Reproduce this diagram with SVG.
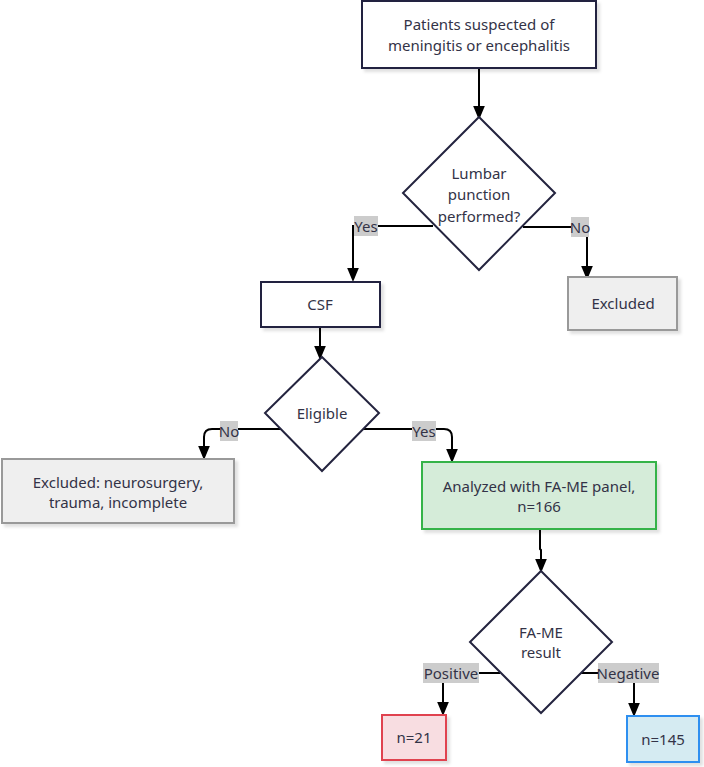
<svg xmlns="http://www.w3.org/2000/svg" width="704" height="767" viewBox="0 0 704 767">
<defs>
<marker id="arr" markerUnits="userSpaceOnUse" markerWidth="14" markerHeight="14" refX="6" refY="5" viewBox="0 0 12 10" orient="auto">
<path d="M0,0 L12,5 L0,10 z" fill="#000"/>
</marker>
<filter id="sh" x="-10%" y="-10%" width="130%" height="140%">
<feDropShadow dx="3" dy="3" stdDeviation="1.5" flood-color="#000" flood-opacity="0.12"/>
</filter>
</defs>
<style>
text{font-family:"Noto Sans","Liberation Sans",sans-serif;font-size:15px;fill:#333347;text-anchor:middle;dominant-baseline:central}
.box{fill:#fff;stroke:#24243f;stroke-width:2;filter:url(#sh)}
.dia{fill:#fff;stroke:#24243f;stroke-width:2}
.gray{fill:#efefef;stroke:#999;stroke-width:2;filter:url(#sh)}
.green{fill:#d5ecd9;stroke:#34b34a;stroke-width:2;filter:url(#sh)}
.red{fill:#f8dde1;stroke:#e0424f;stroke-width:2;filter:url(#sh)}
.blue{fill:#d5ebf2;stroke:#2d8ff0;stroke-width:2;filter:url(#sh)}
.edge{fill:none;stroke:#000;stroke-width:2;marker-end:url(#arr)}
.lbl{fill:#cccccc}
</style>
<g id="connectors">
<path class="edge" d="M479,68 L479,113"/>
<path class="edge" d="M433,226 L353,226 L353,275"/>
<path class="edge" d="M523,227 L587,227 L587,273"/>
<path class="edge" d="M320,327 L320,353"/>
<path class="edge" d="M283,429 L212,429 Q204,429 204,437 L204,453"/>
<path class="edge" d="M363,429 L444,429 Q452,429 452,437 L452,456"/>
<path class="edge" d="M540,529 L540,549 L541,550 L541,566"/>
<path class="edge" d="M500,673 L443,673 L443,709"/>
<path class="edge" d="M581,673 L634,673 L634,710"/>
<g id="edge-labels">
<rect class="lbl" x="354" y="216" width="24" height="20"/><text x="366" y="226">Yes</text>
<rect class="lbl" x="571" y="217" width="18" height="20"/><text x="580" y="227">No</text>
<rect class="lbl" x="220" y="421" width="18" height="20"/><text x="229" y="431">No</text>
<rect class="lbl" x="412" y="421" width="24" height="20"/><text x="424" y="431">Yes</text>
<rect class="lbl" x="423" y="663" width="56" height="20"/><text x="451" y="673">Positive</text>
<rect class="lbl" x="598" y="663" width="61" height="20"/><text x="628" y="673">Negative</text>
</g>
</g>
<g id="start">
<rect class="box" x="362" y="1" width="234" height="67"/>
<text x="479" y="24">Patients suspected of</text>
<text x="479" y="45">meningitis or encephalitis</text>
</g>
<g id="lp">
<polygon class="dia" points="479,117 555,193 479,270 403,193"/>
<text x="479" y="173">Lumbar</text>
<text x="479" y="194">punction</text>
<text x="479" y="216">performed?</text>
</g>
<g id="excluded1">
<rect class="gray" x="568" y="277" width="109" height="53"/>
<text x="623" y="303">Excluded</text>
</g>
<g id="csf">
<rect class="box" x="261" y="282" width="119" height="45"/>
<text x="320" y="304">CSF</text>
</g>
<g id="eligible">
<polygon class="dia" points="322,357 379,413 322,471 265,413"/>
<text x="322" y="413">Eligible</text>
</g>
<g id="excluded2">
<rect class="gray" x="2" y="459" width="232" height="64"/>
<text x="118" y="482">Excluded: neurosurgery,</text>
<text x="118" y="502">trauma, incomplete</text>
</g>
<g id="analyzed">
<rect class="green" x="422" y="462" width="234" height="67"/>
<text x="539" y="486">Analyzed with FA-ME panel,</text>
<text x="539" y="506">n=166</text>
</g>
<g id="fame">
<polygon class="dia" points="541,571 612,642 541,713 470,642"/>
<text x="541" y="632">FA-ME</text>
<text x="541" y="652">result</text>
</g>
<g id="pos">
<rect class="red" x="382" y="715" width="64" height="45"/>
<text x="414" y="737">n=21</text>
</g>
<g id="neg">
<rect class="blue" x="627" y="716" width="72" height="46"/>
<text x="663" y="739">n=145</text>
</g>
</svg>
